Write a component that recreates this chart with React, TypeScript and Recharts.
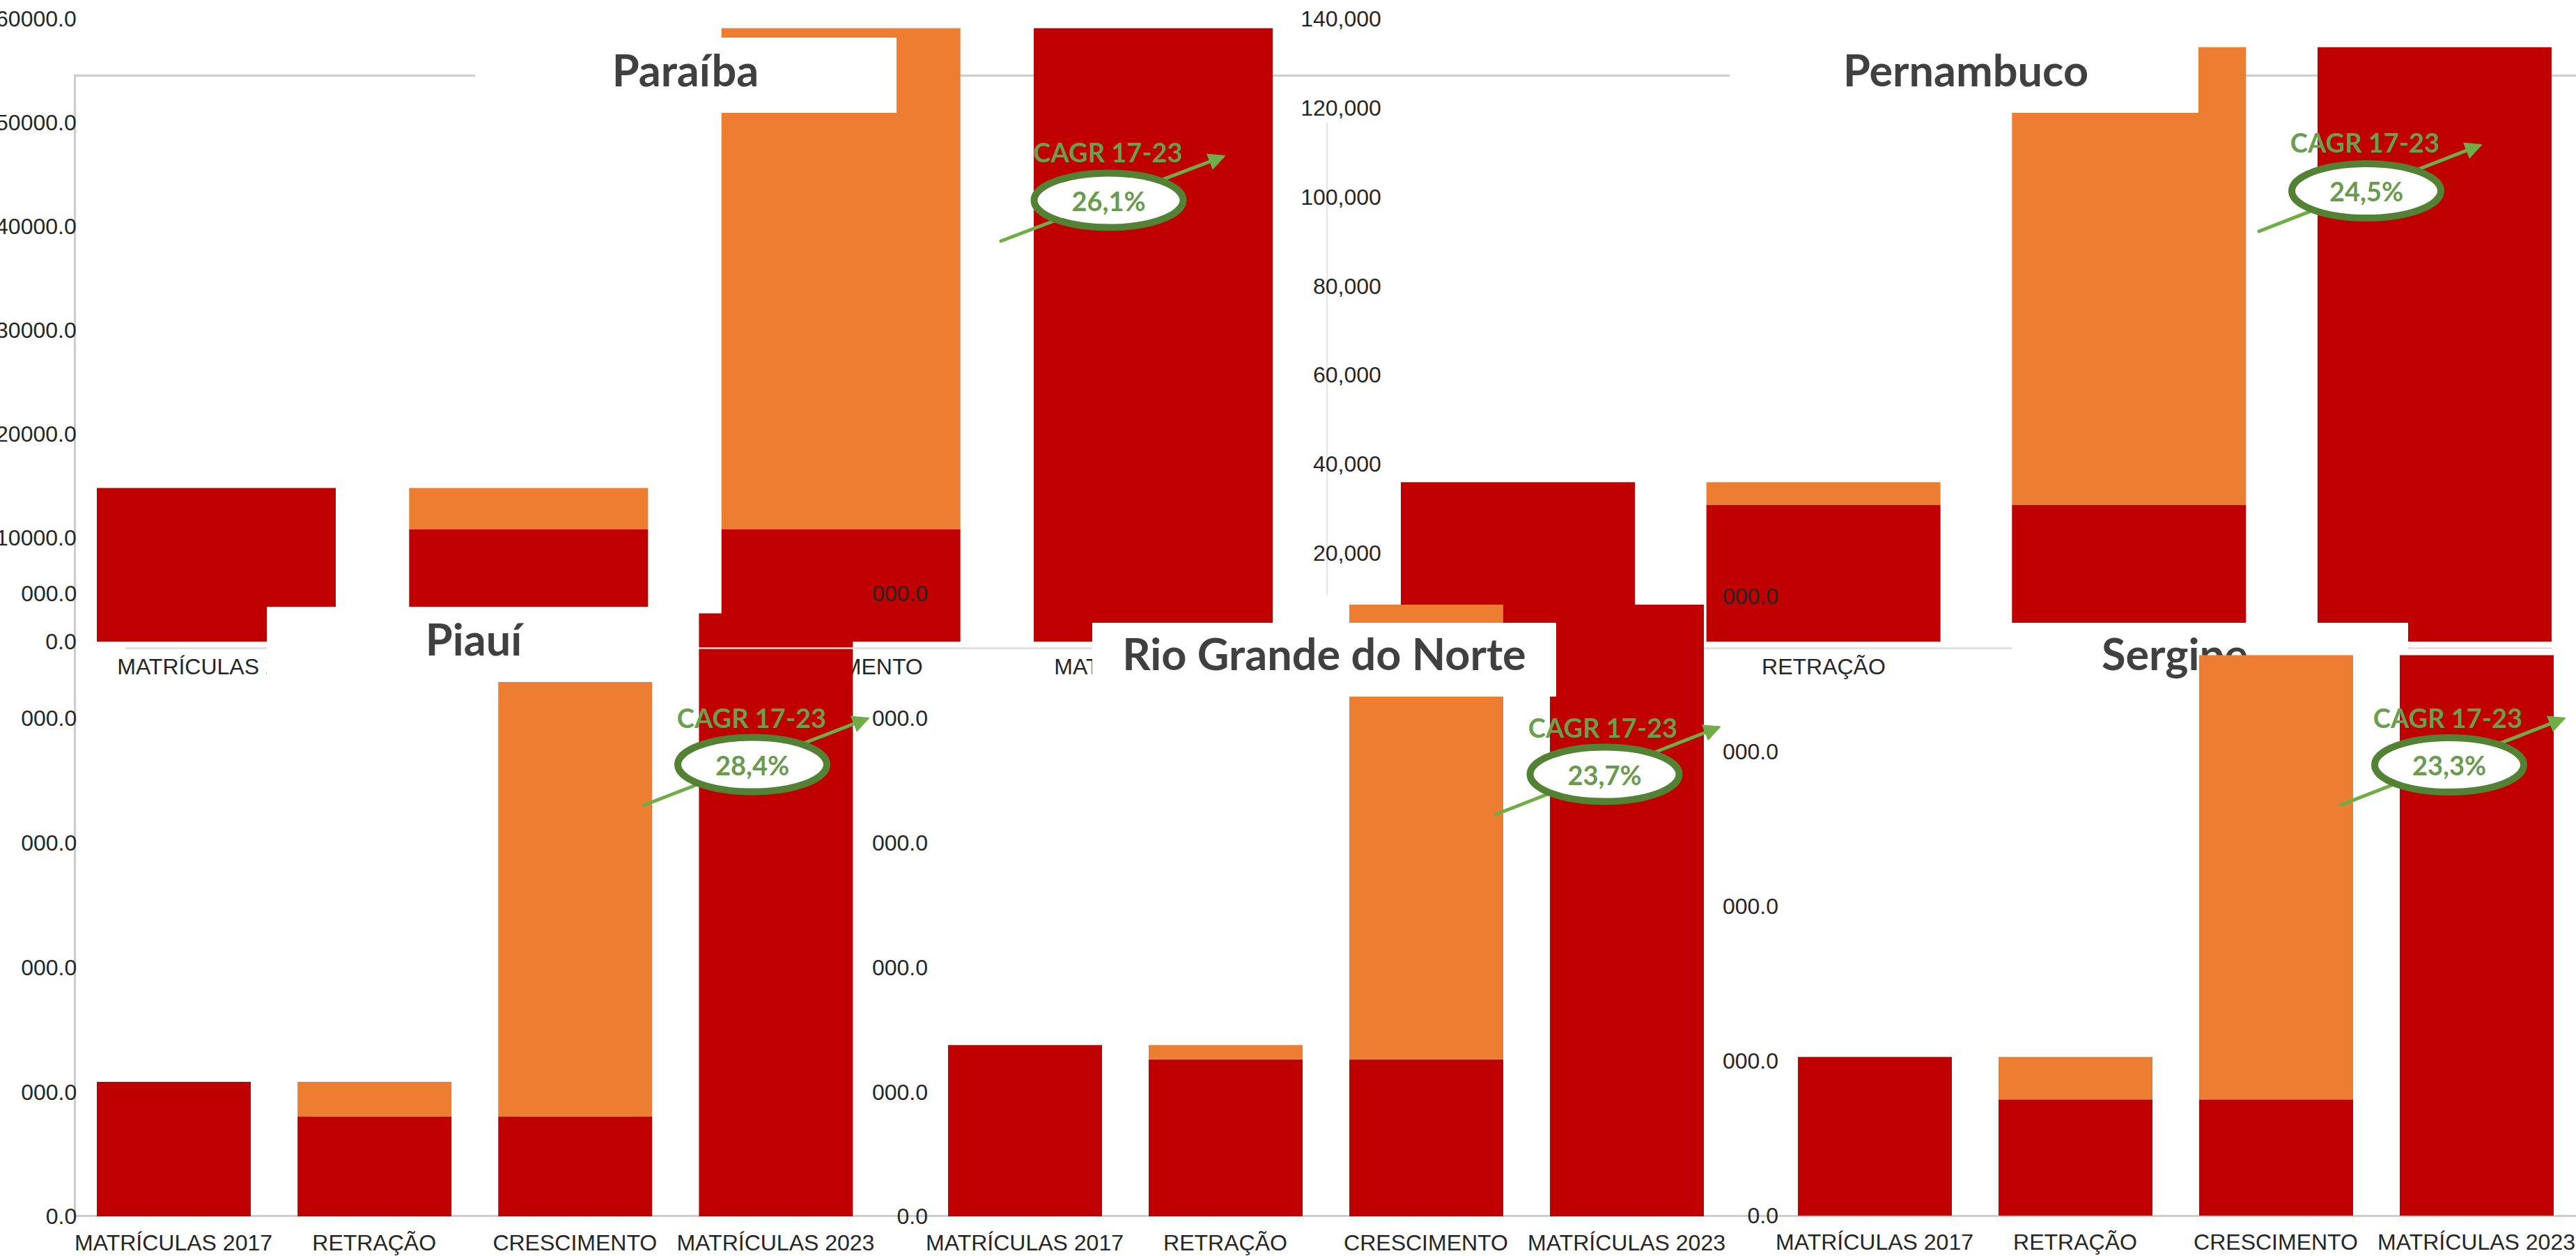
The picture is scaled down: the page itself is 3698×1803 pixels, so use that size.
import { BarChart, Bar, XAxis, YAxis } from 'recharts';

const categories = ['MATRÍCULAS 2017', 'RETRAÇÃO', 'CRESCIMENTO', 'MATRÍCULAS 2023'];

// red = what stays, orange = retraction / growth step
const paraibaRed = [14800, 10800, 10800, 59100];
const paraibaOrange = [0, 4000, 48300, 0];
const pernambucoRed = [35850, 30700, 30700, 133600];
const pernambucoOrange = [0, 5150, 102900, 0];
const piauiRed = [10800, 8000, 8000, 48400];
const piauiOrange = [0, 2800, 40400, 0];
const rgnRed = [13750, 12600, 12600, 49100];
const rgnOrange = [0, 1150, 36500, 0];
const sergipeRed = [10250, 7500, 7500, 36200];
const sergipeOrange = [0, 2750, 28700, 0];

const paraibaTicks = [0, 10000, 20000, 30000, 40000, 50000, 60000];
const pernambucoTicks = [0, 20000, 40000, 60000, 80000, 100000, 120000, 140000];
const piauiTicks = [0, 10000, 20000, 30000, 40000, 50000];
const rgnTicks = [0, 10000, 20000, 30000, 40000, 50000];
const sergipeTicks = [0, 10000, 20000, 30000, 40000];

const cagrLabels = ['26,1%', '24,5%', '28,4%', '23,7%', '23,3%'];

const RED = '#C00000';
const ORANGE = '#ED7D31';
const TEXT = '#262626';
const TITLE = '#404040';
const AXIS_FONT = 'Arial, "Liberation Sans", sans-serif';
const TITLE_FONT = 'Lato, "Noto Sans", sans-serif';

type Plot = { left: number; right: number; top: number; bottom: number };
type Clip = { left: number; top: number; width: number; height: number };

interface WaterfallProps {
  red: number[];
  orange: number[];
  ticks: number[];
  plot: Plot;
  clip: Clip;
  barSize: number;
  yTickMargin: number;
  xTickMargin: number;
  format: (v: number) => string;
}

const Waterfall = ({ red, orange, ticks, plot, clip, barSize, yTickMargin, xTickMargin, format }: WaterfallProps) => {
  const data = categories.map((name, i) => ({ name, red: red[i], orange: orange[i] }));
  const svgLeft = plot.left - 130;
  const svgTop = plot.top - 20;
  const width = plot.right + 10 - svgLeft;
  const height = plot.bottom + 80 - svgTop;
  const tickStyle = { fill: TEXT, fontSize: 32, fontFamily: AXIS_FONT };

  return (
    <div style={{ position: 'absolute', left: clip.left, top: clip.top, width: clip.width, height: clip.height, overflow: 'hidden' }}>
      <div style={{ position: 'absolute', left: svgLeft - clip.left, top: svgTop - clip.top }}>
        <BarChart width={width} height={height} data={data} margin={{ top: 20, right: 10, bottom: 10, left: 10 }}>
          <XAxis
            dataKey="name"
            height={70}
            interval={0}
            tickLine={false}
            axisLine={false}
            tickSize={0}
            tickMargin={xTickMargin}
            tick={tickStyle}
          />
          <YAxis
            width={120}
            domain={[0, ticks[ticks.length - 1]]}
            ticks={ticks}
            interval={0}
            tickFormatter={format}
            tickLine={false}
            axisLine={false}
            tickSize={0}
            tickMargin={yTickMargin}
            tick={tickStyle}
          />
          <Bar dataKey="red" stackId="w" fill={RED} barSize={barSize} isAnimationActive={false} />
          <Bar dataKey="orange" stackId="w" fill={ORANGE} barSize={barSize} isAnimationActive={false} />
        </BarChart>
      </div>
    </div>
  );
};

const Layer = ({ children }: { children: React.ReactNode }) => (
  <svg width={3698} height={1803} style={{ position: 'absolute', left: 0, top: 0 }}>
    {children}
  </svg>
);

const TitleBox = ({ x, y, w, h, text, tx, ty, anchor = 'middle' }: any) => (
  <g>
    <rect x={x} y={y} width={w} height={h} fill="#fff" />
    <text x={tx} y={ty} textAnchor={anchor} fill={TITLE} fontFamily={TITLE_FONT} fontWeight={700} fontSize={63}>
      {text}
    </text>
  </g>
);

const Cagr = ({ id, label, cx, cy, tx, ty, from, to }: any) => (
  <g>
    <defs>
      <marker id={id} viewBox="0 0 10 10" refX="8" refY="5" markerWidth={5} markerHeight={5} orient="auto">
        <path d="M0,0 L10,5 L0,10 z" fill="#70AD47" />
      </marker>
    </defs>
    <line x1={from[0]} y1={from[1]} x2={to[0]} y2={to[1]} stroke="#70AD47" strokeWidth={5} strokeLinecap="round" markerEnd={`url(#${id})`} />
    <ellipse cx={cx} cy={cy} rx={107} ry={39} fill="#fff" stroke="#548235" strokeWidth={10} />
    <text x={tx} y={ty} textAnchor="middle" fill="#6A9F4E" fontFamily={TITLE_FONT} fontWeight={700} fontSize={38}>
      CAGR 17-23
    </text>
    <text x={cx} y={cy + 15} textAnchor="middle" fill="#6A9A4E" fontFamily={TITLE_FONT} fontWeight={700} fontSize={38}>
      {label}
    </text>
  </g>
);

const dec = (v: number) => v.toFixed(1);
const thousands = (v: number) => v.toLocaleString('en-US');

export default function App() {
  return (
    <div style={{ position: 'absolute', left: 0, top: 0, width: 3698, height: 1803, overflow: 'hidden', background: '#fff' }}>
      <Layer>
        <line x1={107} y1={108.5} x2={3698} y2={108.5} stroke="#cccccc" strokeWidth={3} />
        <line x1={107.5} y1={107} x2={107.5} y2={1746} stroke="#cccccc" strokeWidth={3} />
        <line x1={1905} y1={176} x2={1905} y2={854} stroke="#dddddd" strokeWidth={1.5} />
        <line x1={107} y1={1745.5} x2={3698} y2={1745.5} stroke="#cccccc" strokeWidth={3} />
      </Layer>

      <Waterfall
        red={paraibaRed}
        orange={paraibaOrange}
        ticks={paraibaTicks}
        plot={{ left: 86.3, right: 1879.7, top: 27, bottom: 921 }}
        clip={{ left: 0, top: 0, width: 1900, height: 1010 }}
        barSize={343}
        yTickMargin={-23.7}
        xTickMargin={24}
        format={dec}
      />
      <Layer>
        <TitleBox x={682} y={54} w={605} h={108} text="Paraíba" tx={984} ty={124} />
        <Cagr id="a1" label={cagrLabels[0]} cx={1591.5} cy={287.5} tx={1590.5} ty={233} from={[1437, 346]} to={[1755, 225]} />
      </Layer>

      <Waterfall
        red={pernambucoRed}
        orange={pernambucoOrange}
        ticks={pernambucoTicks}
        plot={{ left: 1960.2, right: 3714.8, top: 27.3, bottom: 921.4 }}
        clip={{ left: 1840, top: 0, width: 1858, height: 1010 }}
        barSize={336}
        yTickMargin={-22.8}
        xTickMargin={24}
        format={thousands}
      />
      <Layer>
        <TitleBox x={2483} y={54} w={673} h={108} text="Pernambuco" tx={2822} ty={124} />
        <Cagr id="a2" label={cagrLabels[1]} cx={3397} cy={274} tx={3395} ty={219} from={[3243, 332]} to={[3559, 209]} />
      </Layer>

      <Waterfall
        red={piauiRed}
        orange={piauiOrange}
        ticks={piauiTicks}
        plot={{ left: 104.75, right: 1257.25, top: 852, bottom: 1746 }}
        clip={{ left: 30, top: 700, width: 1240, height: 1103 }}
        barSize={221}
        yTickMargin={-5.25}
        xTickMargin={26}
        format={dec}
      />
      <Layer>
        <line x1={180} y1={930.5} x2={1568} y2={930.5} stroke="#dddddd" strokeWidth={2.5} />
        <line x1={2234} y1={930.5} x2={3664} y2={930.5} stroke="#dddddd" strokeWidth={2.5} />
        <TitleBox x={383} y={871} w={620} h={108} text="Piauí" tx={680} ty={941} />
      </Layer>

      <Waterfall
        red={rgnRed}
        orange={rgnOrange}
        ticks={rgnTicks}
        plot={{ left: 1326.5, right: 2478.5, top: 852, bottom: 1746 }}
        clip={{ left: 1251, top: 700, width: 1240, height: 1103 }}
        barSize={221}
        yTickMargin={-5}
        xTickMargin={26}
        format={dec}
      />
      <Layer>
        <TitleBox x={1568} y={894} w={666} h={106} text="Rio Grande do Norte" tx={1901} ty={962} />
        <TitleBox x={2888} y={894} w={569} h={106} text="Sergipe" tx={3017} ty={962} anchor="start" />
      </Layer>

      <Waterfall
        red={sergipeRed}
        orange={sergipeOrange}
        ticks={sergipeTicks}
        plot={{ left: 2547, right: 3699, top: 856, bottom: 1745 }}
        clip={{ left: 2472.5, top: 700, width: 1225.5, height: 1103 }}
        barSize={221}
        yTickMargin={-6}
        xTickMargin={26}
        format={dec}
      />

      <Layer>
        <Cagr id="a3" label={cagrLabels[2]} cx={1080} cy={1097.6} tx={1079} ty={1044.5} from={[924, 1156]} to={[1244, 1032]} />
        <Cagr id="a4" label={cagrLabels[3]} cx={2303.5} cy={1111.5} tx={2301} ty={1058.5} from={[2147.6, 1169]} to={[2466, 1044.5]} />
        <Cagr id="a5" label={cagrLabels[4]} cx={3516} cy={1098} tx={3514} ty={1044.5} from={[3360, 1155.7]} to={[3679, 1032]} />
      </Layer>
    </div>
  );
}
